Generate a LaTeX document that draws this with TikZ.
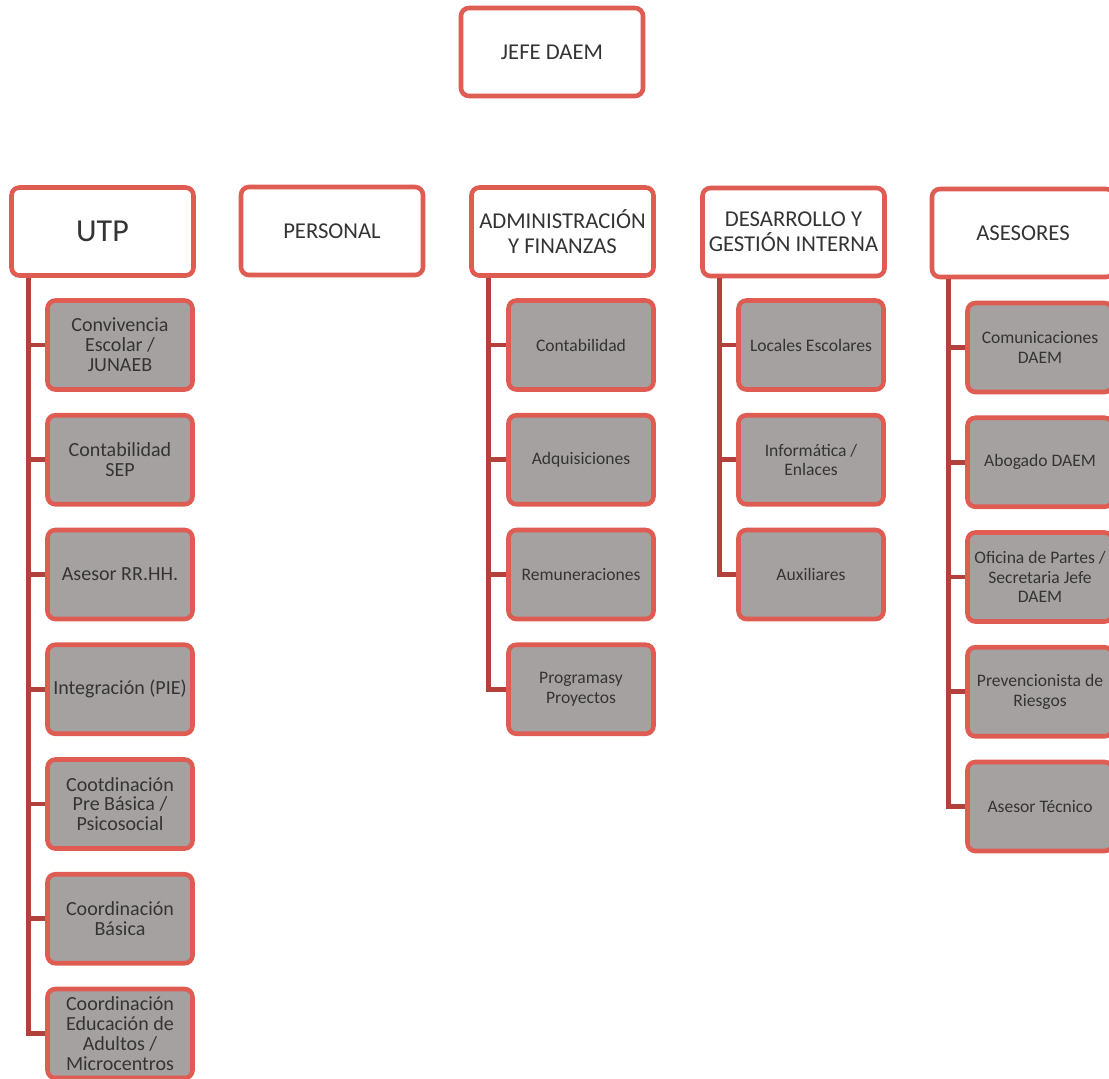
\documentclass[tikz,border=0pt]{standalone}
\usepackage{fontspec}
\setmainfont{Carlito}
\definecolor{boxred}{RGB}{222,92,82}
\definecolor{linkred}{RGB}{180,64,60}
\definecolor{subgray}{RGB}{166,161,161}
\definecolor{txtgray}{RGB}{52,52,52}
\newcommand{\headfont}{\fontsize{12.9}{14}\selectfont}
\newcommand{\subfont}{\fontsize{10}{11}\selectfont}
\newcommand{\utpfont}{\fontsize{11.4}{11.3}\selectfont}
\begin{document}
\begin{tikzpicture}[
    head/.style={draw=boxred, line width=2.6pt, rounded corners=4.5pt, fill=white,
        minimum width=3.64cm, minimum height=1.76cm, align=center, font=\headfont, text=txtgray},
    sub/.style={draw=boxred, line width=2.6pt, rounded corners=4.5pt, fill=subgray,
        minimum width=2.9cm, minimum height=1.78cm, inner sep=1pt, align=center, font=\subfont, text=txtgray},
    link/.style={draw=linkred, line width=2.6pt}
]
    % Fix the page
    \useasboundingbox (0,0) rectangle (22.18,-21.56);

    % Top box
    \node[head] (jefe) at (11.04,-1.04) {JEFE DAEM};

    % Department boxes
    \node[head, font=\fontsize{18.2}{20}\selectfont] (utp) at (2.05,-4.63) {UTP};
    \node[head] (personal) at (6.64,-4.62) {PERSONAL};
    \node[head] (admin) at (11.25,-4.63) {ADMINISTRACIÓN\\Y FINANZAS};
    \node[head] (gestion) at (15.87,-4.64) {DESARROLLO Y\\GESTIÓN INTERNA};
    \node[head] (asesores) at (20.46,-4.66) {ASESORES};

    % Units under UTP
    \foreach \txt [count=\i] in {{Convivencia\\Escolar /\\JUNAEB}, {Contabilidad\\SEP},
        {Asesor RR.HH.}, {Integración (PIE)}, {Cootdinación\\Pre Básica /\\Psicosocial},
        {Coordinación\\Básica}, {Coordinación\\Educación de\\Adultos /\\Microcentros}} {
        \node[sub, font=\utpfont] (utp\i) at (2.4,{-6.9-2.295*(\i-1)}) {\txt};
        \draw[link] ([xshift=0.38cm]utp.south west) |- (utp\i.west);
    }

    % Units under Administracion y Finanzas
    \foreach \txt [count=\i] in {{Contabilidad}, {Adquisiciones}, {Remuneraciones},
        {Programasy\\Proyectos}} {
        \node[sub] (admin\i) at (11.62,{-6.9-2.295*(\i-1)}) {\txt};
        \draw[link] ([xshift=0.38cm]admin.south west) |- (admin\i.west);
    }

    % Units under Desarrollo y Gestion Interna
    \foreach \txt [count=\i] in {{Locales Escolares}, {Informática /\\Enlaces}, {Auxiliares}} {
        \node[sub] (gestion\i) at (16.22,{-6.9-2.295*(\i-1)}) {\txt};
        \draw[link] ([xshift=0.38cm]gestion.south west) |- (gestion\i.west);
    }

    % Units under Asesores
    \foreach \txt [count=\i] in {{Comunicaciones\\DAEM}, {Abogado DAEM},
        {Oficina de Partes /\\Secretaria Jefe\\DAEM}, {Prevencionista de\\Riesgos},
        {Asesor Técnico}} {
        \node[sub] (asesores\i) at (20.8,{-6.95-2.295*(\i-1)}) {\txt};
        \draw[link] ([xshift=0.38cm]asesores.south west) |- (asesores\i.west);
    }
\end{tikzpicture}
\end{document}
